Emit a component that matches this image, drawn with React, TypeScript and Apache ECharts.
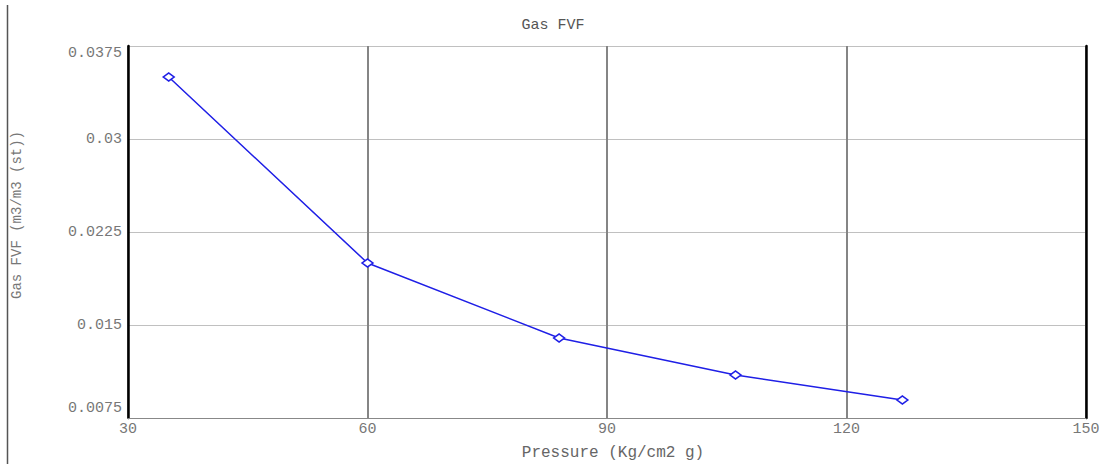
import React, { useEffect, useRef } from "react";
import * as echarts from "echarts";

const titleText = "Gas FVF";
const xAxisName = "Pressure (Kg/cm2 g)";
const yAxisName = "Gas FVF (m3/m3 (st))";
const pressure = [35.1, 60, 84, 106.1, 127];
const gasFvf = [0.035, 0.02, 0.01395, 0.01097, 0.00895];
const xMin = 30, xMax = 150, xStep = 30;
const yMin = 0.0075, yMax = 0.0375, yStep = 0.0075;

const FONT = "'Liberation Mono', 'DejaVu Sans Mono', monospace";

export default function App() {
  const ref = useRef<HTMLDivElement>(null);
  useEffect(() => {
    if (!ref.current) return;
    const chart = echarts.init(ref.current, null, { renderer: "svg" });
    const fmtY = (v: number) => {
      const s = parseFloat(v.toFixed(4)).toString();
      if (Math.abs(v - yMax) < 1e-9) return "{top|" + s + "}";
      if (Math.abs(v - yMin) < 1e-9) return "{bot|" + s + "}";
      return s;
    };
    chart.setOption({
      animation: false,
      backgroundColor: "#ffffff",
      title: {
        text: titleText,
        left: "center",
        top: 13,
        textStyle: { fontFamily: FONT, fontSize: 15, fontWeight: "normal", color: "#555" },
      },
      grid: { left: 128, right: 20, top: 46, bottom: 46, containLabel: false, outerBoundsMode: "none" },
      xAxis: {
        type: "value",
        min: xMin,
        max: xMax,
        interval: xStep,
        name: xAxisName,
        nameLocation: "middle",
        nameGap: 27,
        nameTextStyle: { fontFamily: FONT, fontSize: 16, color: "#666", padding: [0, 0, 0, 12] },
        axisLine: { show: true, onZero: false, lineStyle: { color: "#888", width: 1 } },
        axisTick: { show: false },
        axisLabel: { fontFamily: FONT, fontSize: 15, color: "#777", margin: 4 },
        splitLine: { show: true, lineStyle: { color: "#858585", width: 2 } },
      },
      yAxis: [
        {
          type: "value",
          min: yMin,
          max: yMax,
          interval: yStep,
          name: yAxisName,
          nameLocation: "middle",
          nameRotate: 90,
          nameGap: 104,
          nameTextStyle: { fontFamily: FONT, fontSize: 14, color: "#777", padding: [0, 0, 0, 34] },
          axisLine: { show: true, onZero: false, lineStyle: { color: "#000", width: 2.5 } },
          axisTick: { show: false },
          axisLabel: {
            fontFamily: FONT,
            fontSize: 15,
            color: "#777",
            margin: 6,
            formatter: fmtY,
            rich: {
              top: { fontFamily: FONT, fontSize: 15, color: "#777", padding: [14, 0, 0, 0] },
              bot: { fontFamily: FONT, fontSize: 15, color: "#777", padding: [0, 0, 20, 0] },
            },
          },
          splitLine: { show: true, lineStyle: { color: "#c0c0c0", width: 1 } },
        },
        {
          type: "value",
          min: yMin,
          max: yMax,
          interval: yStep,
          position: "right",
          axisLine: { show: true, onZero: false, lineStyle: { color: "#000", width: 2.5 } },
          axisTick: { show: false },
          axisLabel: { show: false },
          splitLine: { show: false },
        },
      ],
      graphic: [
        {
          type: "line",
          shape: { x1: 7.5, y1: 5, x2: 7.5, y2: 464 },
          style: { stroke: "#555", lineWidth: 1.5 },
        },
      ],
      series: [
        {
          type: "line",
          data: pressure.map((p, i) => [p, gasFvf[i]]),
          symbol: "diamond",
          symbolSize: [11, 8],
          showSymbol: true,
          lineStyle: { color: "#1f1fe6", width: 1.5 },
          itemStyle: { color: "#ffffff", borderColor: "#1f1fe6", borderWidth: 1.5 },
        },
      ],
    });
    return () => chart.dispose();
  }, []);
  return (
    <div
      ref={ref}
      style={{ position: "fixed", left: 0, top: 0, width: 1106, height: 464 }}
    />
  );
}
